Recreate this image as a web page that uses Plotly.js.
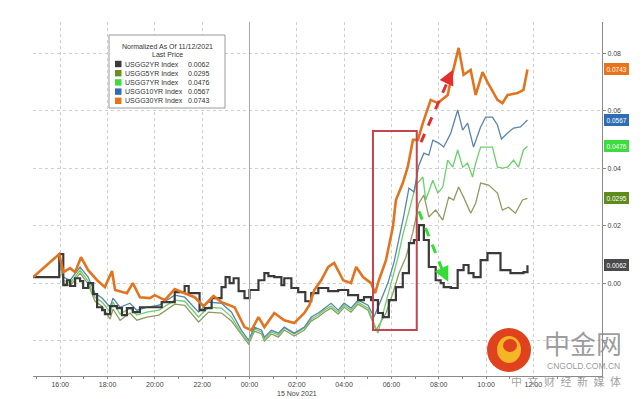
<!DOCTYPE html>
<html><head><meta charset="utf-8">
<script src="https://cdn.plot.ly/plotly-3.0.1.min.js"></script>
<style>html,body{margin:0;padding:0;background:#fff;}#chart{width:644px;height:399px;}</style>
</head><body><div id="chart"></div>
<script>
// ---- DATA (time = hours from 15 Nov 2021 00:00, value = normalized yield change) ----
const seriesNames = ["USGG2YR Index","USGG5YR Index","USGG7YR Index","USGG10YR Index","USGG30YR Index"];
const lastPrice = [0.0062, 0.0295, 0.0476, 0.0567, 0.0743];
const legendTitle = "Normalized As Of 11/12/2021";
const legendSub = "Last Price";
const tickHours = [-8,-6,-4,-2,0,2,4,6,8,10,12];
const tickLabels = ["16:00","18:00","20:00","22:00","00:00","02:00","04:00","06:00","08:00","10:00","12:00"];
const yTickVals = [-0.02,0,0.02,0.04,0.06,0.08];
const yTickText = ["","0.00","0.02","0.04","0.06","0.08"];
const dateLabel = "15 Nov 2021";

const t2 = [-9.14,-8.04,-7.87,-7.71,-7.58,-7.37,-7.16,-7.03,-6.82,-6.61,-6.44,-6.23,-6.11,-5.89,-5.60,-5.39,-5.18,-4.93,-4.63,-4.25,-3.71,-3.16,-2.74,-2.57,-2.11,-1.89,-1.60,-1.18,-1.01,-0.84,-0.67,-0.46,-0.21,0.00,0.38,0.63,0.80,1.05,1.35,1.47,1.77,2.06,2.36,2.61,2.91,3.33,3.75,4.17,4.59,4.84,5.14,5.43,5.64,5.89,6.19,6.48,6.74,6.95,7.16,7.37,7.58,7.87,8.08,8.21,8.51,8.80,9.05,9.26,9.47,9.77,10.06,10.48,10.61,11.03,11.58,11.75];
const v2 = [0.0021,0.0101,-0.0007,0.0010,-0.0010,0.0017,0.0007,-0.0017,0.0000,-0.0038,-0.0084,-0.0094,-0.0108,-0.0080,-0.0087,-0.0111,-0.0087,-0.0101,-0.0084,-0.0084,-0.0066,-0.0031,-0.0010,-0.0035,-0.0094,-0.0087,-0.0052,-0.0014,0.0021,0.0000,0.0017,-0.0028,-0.0052,-0.0024,0.0010,0.0035,0.0024,0.0021,-0.0007,0.0017,-0.0017,-0.0031,-0.0063,-0.0035,-0.0017,-0.0028,-0.0024,-0.0042,-0.0059,-0.0049,-0.0059,-0.0104,-0.0118,-0.0059,-0.0014,0.0035,0.0139,0.0150,0.0202,0.0150,0.0056,0.0010,0.0000,-0.0014,-0.0017,0.0045,0.0063,0.0035,0.0021,0.0080,0.0104,0.0104,0.0045,0.0035,0.0038,0.0062];

const t5 = [-9.14,-8.04,-7.87,-7.58,-7.16,-6.82,-6.53,-6.23,-5.89,-5.77,-5.47,-5.05,-4.76,-4.34,-3.83,-3.16,-2.74,-2.15,-1.73,-1.18,-0.76,-0.34,-0.04,0.21,0.51,0.63,0.93,1.22,1.47,1.89,2.32,2.61,2.91,3.16,3.45,3.75,4.00,4.29,4.59,5.01,5.26,5.35,5.77,6.06,6.32,6.61,6.91,7.16,7.37,7.58,7.87,8.17,8.42,8.63,8.84,9.05,9.35,9.56,9.77,10.11,10.48,10.69,10.95,11.24,11.54,11.75];
const v5 = [0.0021,0.0101,0.0003,-0.0010,0.0035,-0.0003,-0.0063,-0.0080,-0.0125,-0.0090,-0.0129,-0.0104,-0.0129,-0.0118,-0.0111,-0.0073,-0.0077,-0.0135,-0.0101,-0.0104,-0.0132,-0.0181,-0.0212,-0.0167,-0.0177,-0.0202,-0.0177,-0.0188,-0.0163,-0.0184,-0.0163,-0.0132,-0.0118,-0.0101,-0.0087,-0.0108,-0.0084,-0.0101,-0.0073,-0.0094,-0.0150,-0.0164,-0.0104,-0.0035,0.0035,0.0090,0.0177,0.0278,0.0306,0.0230,0.0254,0.0219,0.0299,0.0289,0.0334,0.0299,0.0243,0.0278,0.0348,0.0341,0.0313,0.0254,0.0264,0.0243,0.0289,0.0295];

const t7 = [-9.14,-8.04,-7.87,-7.58,-7.16,-6.82,-6.53,-6.23,-5.89,-5.77,-5.47,-5.05,-4.76,-4.34,-3.83,-3.16,-2.74,-2.15,-1.73,-1.18,-0.76,-0.34,-0.04,0.21,0.51,0.63,0.93,1.22,1.47,1.89,2.32,2.61,2.91,3.16,3.45,3.75,4.00,4.29,4.59,5.01,5.26,5.43,5.68,5.98,6.27,6.48,6.74,7.03,7.33,7.45,7.75,7.96,8.17,8.38,8.59,8.80,9.01,9.22,9.43,9.56,9.77,10.27,10.48,10.69,10.91,11.16,11.37,11.58,11.75];
const v7 = [0.0021,0.0101,0.0010,0.0000,0.0045,0.0007,-0.0049,-0.0066,-0.0101,-0.0066,-0.0108,-0.0087,-0.0111,-0.0101,-0.0094,-0.0059,-0.0063,-0.0118,-0.0084,-0.0087,-0.0118,-0.0174,-0.0205,-0.0160,-0.0170,-0.0195,-0.0170,-0.0181,-0.0156,-0.0177,-0.0156,-0.0125,-0.0111,-0.0094,-0.0080,-0.0101,-0.0077,-0.0094,-0.0066,-0.0087,-0.0139,-0.0174,-0.0094,0.0000,0.0087,0.0167,0.0247,0.0341,0.0369,0.0289,0.0358,0.0313,0.0334,0.0428,0.0403,0.0463,0.0403,0.0417,0.0369,0.0417,0.0473,0.0473,0.0403,0.0400,0.0403,0.0428,0.0403,0.0463,0.0476];

const t10 = [-9.14,-8.04,-7.87,-7.58,-7.16,-6.82,-6.53,-6.23,-5.89,-5.77,-5.47,-5.05,-4.76,-4.34,-3.83,-3.16,-2.74,-2.15,-1.73,-1.18,-0.76,-0.34,-0.04,0.21,0.51,0.63,0.93,1.22,1.47,1.89,2.32,2.61,2.91,3.16,3.45,3.75,4.00,4.29,4.59,5.01,5.26,5.56,5.85,6.11,6.32,6.53,6.74,6.95,7.16,7.37,7.58,7.75,8.00,8.21,8.51,8.80,9.01,9.22,9.47,9.77,9.98,10.27,10.48,10.65,10.91,11.16,11.45,11.75];
const v10 = [0.0021,0.0101,0.0021,0.0010,0.0056,0.0021,-0.0035,-0.0052,-0.0084,-0.0052,-0.0084,-0.0070,-0.0094,-0.0084,-0.0077,-0.0042,-0.0049,-0.0101,-0.0066,-0.0070,-0.0101,-0.0164,-0.0198,-0.0153,-0.0164,-0.0188,-0.0164,-0.0174,-0.0153,-0.0174,-0.0153,-0.0118,-0.0104,-0.0087,-0.0070,-0.0094,-0.0070,-0.0087,-0.0059,-0.0077,-0.0118,-0.0059,0.0000,0.0073,0.0150,0.0237,0.0330,0.0317,0.0410,0.0452,0.0445,0.0497,0.0487,0.0473,0.0522,0.0602,0.0532,0.0556,0.0473,0.0543,0.0577,0.0577,0.0550,0.0501,0.0522,0.0539,0.0543,0.0567];

const t30 = [-9.14,-8.04,-7.87,-7.58,-7.37,-7.12,-6.82,-6.44,-6.11,-5.81,-5.68,-5.18,-4.93,-4.63,-4.21,-4.00,-3.58,-3.16,-2.74,-2.32,-1.94,-1.52,-1.18,-0.63,-0.21,0.08,0.38,0.63,1.05,1.47,1.89,2.32,2.53,2.74,3.03,3.33,3.58,3.96,4.29,4.51,4.80,5.14,5.31,5.47,5.77,6.06,6.19,6.48,6.69,6.91,7.12,7.33,7.66,7.96,8.38,8.51,8.84,9.05,9.35,9.56,9.85,10.06,10.48,10.69,10.91,11.33,11.58,11.75];
const v30 = [0.0021,0.0101,0.0038,0.0052,0.0038,0.0090,0.0045,0.0010,-0.0014,0.0042,-0.0024,-0.0035,0.0000,-0.0049,-0.0052,-0.0042,-0.0059,-0.0021,-0.0035,-0.0049,-0.0080,-0.0045,-0.0066,-0.0084,-0.0153,-0.0164,-0.0118,-0.0153,-0.0104,-0.0129,-0.0139,-0.0104,-0.0077,-0.0024,0.0010,0.0056,0.0070,0.0010,0.0000,0.0056,0.0021,0.0000,-0.0035,0.0010,0.0080,0.0195,0.0289,0.0348,0.0404,0.0498,0.0498,0.0557,0.0637,0.0626,0.0654,0.0706,0.0818,0.0724,0.0741,0.0654,0.0734,0.0699,0.0637,0.0626,0.0654,0.0661,0.0672,0.0743];

// ---- STYLE ----
const lineColors = ["#3a3a3a","#8e9c62","#6bd06b","#5a84aa","#e2741f"];
const lineWidths = [2.2,1.3,1.3,1.3,2.6];
const tagColors = ["#4a4a4a","#5f8a1e","#3ddc3d","#2e6db3","#e8731a"];
const swatchColors = ["#3a3a3a","#6b8e23","#3ddc3d","#2d6db5","#e8731a"];

const W=644,H=399,ML=33,MR=42,MT=22,MB=23;
const PW=W-ML-MR, PH=H-MT-MB;
const px = x => (x-ML)/PW;
const py = y => (H-MB-y)/PH;

const T=[t2,t5,t7,t10,t30], V=[v2,v5,v7,v10,v30];
const order=[1,2,3,0,4];
const traces = order.map(i=>({
  x:T[i], y:V[i], type:'scatter', mode:'lines', name:seriesNames[i],
  line:{color:lineColors[i], width:lineWidths[i], shape: i===0?'hv':'linear'},
  hoverinfo:'skip'
}));

const shapes=[], annotations=[];
shapes.push({type:'line',xref:'x',yref:'paper',x0:0,x1:0,y0:0,y1:1,line:{color:'#a8a8a8',width:1}});
shapes.push({type:'rect',xref:'x',yref:'y',x0:5.22,x1:7.07,y0:-0.0163,y1:0.0529,line:{color:'#c4454f',width:2}});
shapes.push({type:'line',xref:'x',yref:'y',x0:7.25,y0:0.0490,x1:8.45,y1:0.0715,line:{color:'#e2302f',width:3,dash:'dash'}});
annotations.push({xref:'x',yref:'y',x:8.6,y:0.0742,ax:8.3,ay:0.0690,axref:'x',ayref:'y',showarrow:true,arrowhead:2,arrowsize:1,arrowwidth:3,arrowcolor:'#e2302f',text:''});
shapes.push({type:'line',xref:'x',yref:'y',x0:7.16,y0:0.0250,x1:8.25,y1:0.0025,line:{color:'#33dd33',width:3,dash:'dash'}});
annotations.push({xref:'x',yref:'y',x:8.4,y:0.0005,ax:8.1,ay:0.0055,axref:'x',ayref:'y',showarrow:true,arrowhead:2,arrowsize:1,arrowwidth:3,arrowcolor:'#33dd33',text:''});

// legend box
shapes.push({type:'rect',xref:'paper',yref:'paper',x0:px(109),x1:px(225),y0:py(108),y1:py(35),line:{color:'#9a9a9a',width:1},fillcolor:'#ffffff',layer:'above'});
const lf={family:'Liberation Sans, Arial, sans-serif',size:7,color:'#333'};
annotations.push({xref:'paper',yref:'paper',x:px(167),y:py(46),text:legendTitle,showarrow:false,font:lf,xanchor:'center',yanchor:'middle'});
annotations.push({xref:'paper',yref:'paper',x:px(167),y:py(55),text:legendSub,showarrow:false,font:lf,xanchor:'center',yanchor:'middle'});
seriesNames.forEach((n,i)=>{
  const yy=64+i*9.2;
  shapes.push({type:'rect',xref:'paper',yref:'paper',x0:px(115),x1:px(121.5),y0:py(yy+3.2),y1:py(yy-3.2),line:{width:0},fillcolor:swatchColors[i],layer:'above'});
  annotations.push({xref:'paper',yref:'paper',x:px(123),y:py(yy),text:n,showarrow:false,font:lf,xanchor:'left',yanchor:'middle'});
  annotations.push({xref:'paper',yref:'paper',x:px(186),y:py(yy),text:lastPrice[i].toFixed(4),showarrow:false,font:lf,xanchor:'left',yanchor:'middle'});
});
lastPrice.forEach((p,i)=>{
  annotations.push({xref:'paper',yref:'y',x:1,y:p,xanchor:'left',yanchor:'middle',xshift:2,text:p.toFixed(4),showarrow:false,
    font:{family:'Liberation Sans, Arial, sans-serif',size:6.5,color:'#ffffff'},bgcolor:tagColors[i],bordercolor:tagColors[i],borderpad:1.5});
});
annotations.push({xref:'x',yref:'paper',x:2,y:py(393),text:dateLabel,showarrow:false,font:{family:'Liberation Sans, Arial, sans-serif',size:7,color:'#444'},xanchor:'center',yanchor:'middle'});

// watermark
shapes.push({type:'circle',xref:'paper',yref:'paper',x0:px(487),x1:px(531),y0:py(372),y1:py(328),fillcolor:'#e0421d',line:{width:0},layer:'above'});
shapes.push({type:'circle',xref:'paper',yref:'paper',x0:px(497),x1:px(521),y0:py(363),y1:py(336),fillcolor:'#f6b526',line:{width:0},layer:'above'});
shapes.push({type:'circle',xref:'paper',yref:'paper',x0:px(503),x1:px(517),y0:py(352),y1:py(339),fillcolor:'#e0421d',line:{width:0},layer:'above'});
annotations.push({xref:'paper',yref:'paper',x:px(583),y:py(342),text:'中金网',showarrow:false,font:{family:'Noto Sans CJK SC',size:26,color:'rgba(140,140,140,0.85)'},xanchor:'center',yanchor:'middle'});
annotations.push({xref:'paper',yref:'paper',x:px(583),y:py(366),text:'CNGOLD.COM.CN',showarrow:false,font:{family:'Liberation Sans, Arial',size:8.5,color:'rgba(140,140,140,0.9)'},xanchor:'center',yanchor:'middle'});
annotations.push({xref:'paper',yref:'paper',x:px(566),y:py(381),text:'中\u2002文\u2002财\u2002经\u2002新\u2002媒\u2002体',showarrow:false,font:{family:'Noto Sans CJK SC',size:11,color:'rgba(150,150,150,0.9)'},xanchor:'center',yanchor:'middle'});

const layout={
  width:W,height:H,margin:{l:ML,r:MR,t:MT,b:MB,pad:0},
  paper_bgcolor:'#ffffff',plot_bgcolor:'#ffffff',showlegend:false,
  xaxis:{range:[-9.15,14.9],tickmode:'array',tickvals:tickHours,ticktext:tickLabels,
    showgrid:true,gridcolor:'#cfcfcf',griddash:'dot',gridwidth:1,zeroline:false,
    showline:true,linecolor:'#8a8a8a',ticks:'outside',ticklen:2,tickcolor:'#8a8a8a',
    minor:{tick0:-9,dtick:1,ticks:'outside',ticklen:2,tickcolor:'#8a8a8a',showgrid:false},
    tickfont:{family:'Liberation Sans, Arial, sans-serif',size:7,color:'#444'}},
  yaxis:{side:'right',range:[-0.0323,0.0908],tickmode:'array',tickvals:yTickVals,ticktext:yTickText,
    showgrid:true,gridcolor:'#cfcfcf',griddash:'dot',gridwidth:1,zeroline:false,
    showline:true,linecolor:'#8a8a8a',ticks:'outside',ticklen:3,tickcolor:'#8a8a8a',
    tickfont:{family:'Liberation Sans, Arial, sans-serif',size:7,color:'#444'}},
  shapes:shapes,annotations:annotations
};
Plotly.newPlot('chart',traces,layout,{staticPlot:true,displayModeBar:false});
</script></body></html>
